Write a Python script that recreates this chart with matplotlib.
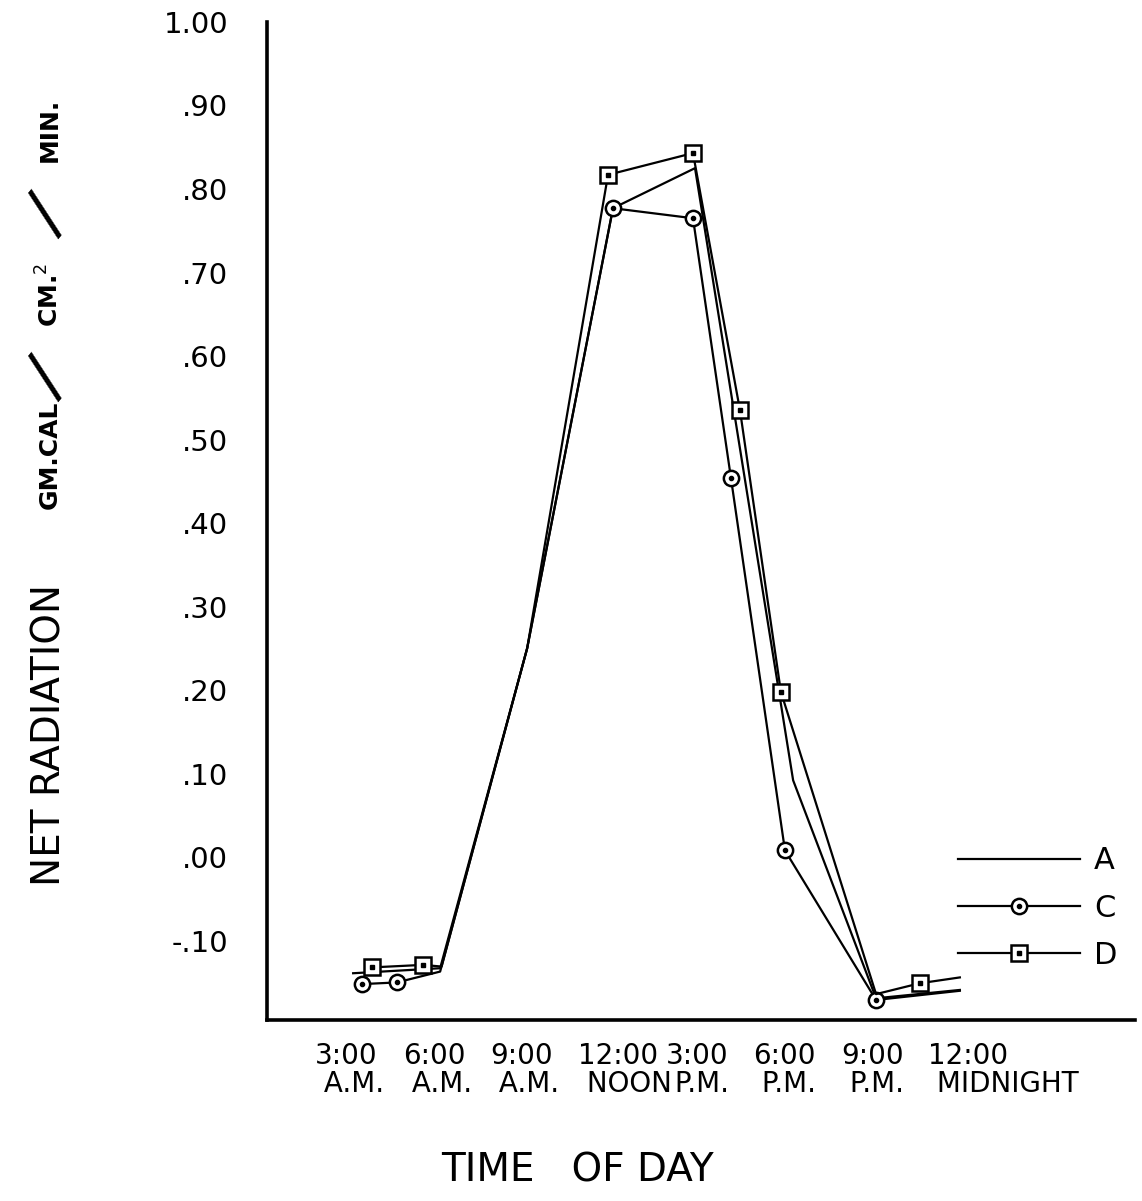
import numpy as np
import matplotlib
matplotlib.use('Agg')
import matplotlib.pyplot as plt
from matplotlib.legend_handler import HandlerTuple
from matplotlib.transforms import ScaledTranslation

# hours after midnight, values in gm.cal/cm2/min
a_hours = [3.27, 6.25, 9.23, 12.17, 14.98, 18.34, 21.18, 24.05]
a_vals = [-0.139, -0.133, 0.250, 0.777, 0.825, 0.092, -0.169, -0.159]

c_hours = [3.58, 4.77, 6.25, 9.23, 12.17, 14.91, 16.21, 18.06, 21.18, 24.05]
c_vals = [-0.152, -0.150, -0.137, 0.250, 0.777, 0.765, 0.454, 0.008, -0.171, -0.160]
c_marks = [0, 1, 4, 5, 6, 7, 8]

d_hours = [3.92, 5.66, 6.30, 9.23, 12.0, 14.91, 16.52, 17.92, 21.18, 22.68, 24.05]
d_vals = [-0.132, -0.129, -0.131, 0.250, 0.817, 0.843, 0.535, 0.198, -0.164, -0.151, -0.144]
d_marks = [0, 1, 4, 5, 6, 7, 9]

x_ticks = [3, 6, 9, 12, 15, 18, 21, 24]
x_labels = ['3:00\n A.M.', '6:00\n A.M.', '9:00\n A.M.', '12:00\n NOON',
            '3:00\n P.M.', '6:00\n P.M.', '9:00\n P.M.', '12:00\n MIDNIGHT']
y_ticks = [-0.1, 0.0, 0.1, 0.2, 0.3, 0.4, 0.5, 0.6, 0.7, 0.8, 0.9, 1.0]
y_labels = ['-.10', '.00', '.10', '.20', '.30', '.40', '.50', '.60', '.70', '.80', '.90', '1.00']

fig = plt.figure(figsize=(11.42, 12.01), dpi=100)
ax = fig.add_axes([0.2338, 0.1507, 0.7601, 0.8310])

lw = 1.6
la, = ax.plot(a_hours, a_vals, color='black', lw=lw)
lc, = ax.plot(c_hours, c_vals, color='black', lw=lw, marker='o', markevery=c_marks,
              ms=11, mfc='white', mec='black', mew=1.8)
dc, = ax.plot(np.array(c_hours)[c_marks], np.array(c_vals)[c_marks], ls='none',
              marker='o', ms=3, color='black')
ld, = ax.plot(d_hours, d_vals, color='black', lw=lw, marker='s', markevery=d_marks,
              ms=11, mfc='white', mec='black', mew=1.8)
dd, = ax.plot(np.array(d_hours)[d_marks], np.array(d_vals)[d_marks], ls='none',
              marker='s', ms=3, color='black')

ax.set_xlim(0.32, 30.05)
ax.set_ylim(-0.195, 1.0)

for s in ['top', 'right']:
    ax.spines[s].set_visible(False)
for s in ['left', 'bottom']:
    ax.spines[s].set_linewidth(2.6)

ax.set_xticks(x_ticks)
ax.set_xticklabels(x_labels, fontsize=20, linespacing=1.0)
ax.set_yticks(y_ticks)
ax.set_yticklabels(y_labels, fontsize=21)
ax.tick_params(axis='both', length=0)
ax.tick_params(axis='y', pad=28)
ax.tick_params(axis='x', pad=16)

# hand lettered labels sit left-aligned just before each hour mark
shift = ScaledTranslation(-0.30, 0, fig.dpi_scale_trans)
for lab in ax.get_xticklabels():
    lab.set_horizontalalignment('left')
    lab.set_multialignment('left')
    lab.set_transform(lab.get_transform() + shift)

ax.legend([la, (lc, dc), (ld, dd)], ['A', 'C', 'D'],
          handler_map={tuple: HandlerTuple(ndivide=1, pad=0)},
          loc='center left', bbox_to_anchor=(0.796, 0.112), frameon=False,
          fontsize=22, handlelength=4.0, handletextpad=0.45, labelspacing=0.6,
          borderpad=0, borderaxespad=0)

# axis titles
fig.text(0.506, 1 - 1170 / 1201, 'TIME   OF DAY', fontsize=28, ha='center', va='center')
fig.text(50 / 1142, 1 - 735 / 1201, 'NET RADIATION', fontsize=28, rotation=90,
         ha='center', va='center')
fig.text(50 / 1142, 1 - 455 / 1201, 'GM.CAL', fontsize=18, rotation=90,
         ha='center', va='center', weight='bold')
fig.text(48 / 1142, 1 - 378 / 1201, '/', fontsize=46, rotation=50,
         ha='center', va='center')
fig.text(50 / 1142, 1 - 295 / 1201, r'CM.$^2$', fontsize=18, rotation=90,
         ha='center', va='center', weight='bold')
fig.text(48 / 1142, 1 - 215 / 1201, '/', fontsize=46, rotation=50,
         ha='center', va='center')
fig.text(50 / 1142, 1 - 130 / 1201, 'MIN.', fontsize=18, rotation=90,
         ha='center', va='center', weight='bold')

fig.savefig('out.png', dpi=100)
